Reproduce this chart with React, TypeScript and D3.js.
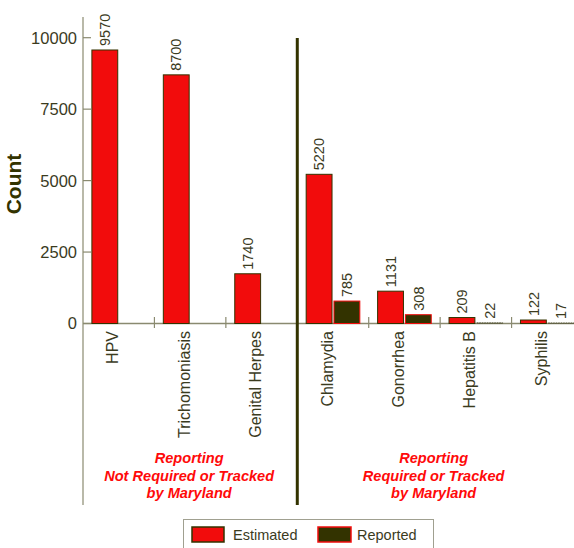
import React from "react";
import * as d3 from "d3";

const categories = ["HPV", "Trichomoniasis", "Genital Herpes", "Chlamydia", "Gonorrhea", "Hepatitis B", "Syphilis"];
const estimated = [9570, 8700, 1740, 5220, 1131, 209, 122];
const reported: (number | null)[] = [null, null, null, 785, 308, 22, 17];
const yTicks = [0, 2500, 5000, 7500, 10000];
const seriesNames = ["Estimated", "Reported"];
const groupLeft = ["Reporting", "Not Required or Tracked", "by Maryland"];
const groupRight = ["Reporting", "Required or Tracked", "by Maryland"];

const W = 574, H = 548;
const dark = "#333300";
const txt = "#3b3b1e";
const axisCol = "#8a8a70";
const red = "#f20c0c";
const font = "'Liberation Sans', Arial, sans-serif";

export default function App() {
  const x0 = 83;
  const y0 = 323.5;
  const x = d3.scaleBand<string>().domain(categories).range([x0, 583]).paddingInner(0).paddingOuter(0);
  const sub = d3.scaleBand<string>().domain(seriesNames).range([0, x.bandwidth()]).paddingInner(0.07).paddingOuter(0.32);
  const y = d3.scaleLinear().domain([0, 10000]).range([y0, 37.7]);
  const dividerX = x(categories[3])!;
  const bw = sub.bandwidth();

  const bars: React.ReactNode[] = [];
  categories.forEach((c, i) => {
    const vals = [estimated[i], reported[i]];
    vals.forEach((v, j) => {
      if (v == null) return;
      const bx = x(c)! + sub(seriesNames[j])!;
      const top = y(v);
      const h = y0 - top;
      const tiny = h < 2;
      bars.push(
        <rect key={`b${i}-${j}`} x={bx} y={top} width={bw} height={Math.max(0.01, h)}
          fill={j === 0 ? red : dark} stroke={tiny ? "#66664d" : j === 0 ? dark : red} strokeWidth={1}
          strokeDasharray={tiny ? "1.5 1" : undefined} />
      );
      const cx = bx + bw / 2;
      bars.push(
        <text key={`l${i}-${j}`} transform={`translate(${cx},${top - 4}) rotate(-90)`} dy="0.36em"
          fontSize={14.5} fill={txt} fontFamily={font}>{v}</text>
      );
    });
  });

  const boundaryTicks = categories.slice(1).map((c) => x(c)!).filter((v) => Math.abs(v - dividerX) > 1);

  const leftCenter = (x0 + dividerX) / 2;
  const rightCenter = (dividerX + W) / 2 - 2;

  return (
    <svg width={W} height={H} style={{ position: "absolute", left: 0, top: 0, background: "#fff" }}>
      <rect width={W} height={H} fill="#fff" />
      {/* y axis */}
      <line x1={x0} x2={x0} y1={17} y2={505} stroke={axisCol} strokeWidth={1.2} />
      {yTicks.map((t) => (
        <g key={t}>
          <line x1={x0} x2={x0 + 8} y1={y(t)} y2={y(t)} stroke={axisCol} strokeWidth={1.2} />
          <text x={77} y={y(t)} dy="0.36em" textAnchor="end" fontSize={16.5} fill={txt} fontFamily={font}>{t}</text>
        </g>
      ))}
      <text transform={`translate(21,184) rotate(-90)`} textAnchor="middle" fontSize={21} fontWeight="bold" fill={dark} fontFamily={font}>Count</text>
      {/* baseline */}
      <line x1={x0} x2={W} y1={y0} y2={y0} stroke={axisCol} strokeWidth={1.3} />
      {boundaryTicks.map((bx) => (
        <line key={bx} x1={bx} x2={bx} y1={317} y2={328} stroke={axisCol} strokeWidth={1.2} />
      ))}
      {bars}
      {/* divider */}
      <line x1={dividerX} x2={dividerX} y1={38} y2={505} stroke={dark} strokeWidth={3} />
      {/* category labels */}
      {categories.map((c) => (
        <text key={c} transform={`translate(${x(c)! + x.bandwidth() / 2 - 0.5},331) rotate(-90)`} textAnchor="end"
          fontSize={16} fill={txt} fontFamily={font}>{c}</text>
      ))}
      {/* group annotations */}
      {groupLeft.map((s, i) => (
        <text key={`gl${i}`} x={leftCenter - 1} y={463 + i * 17.5} textAnchor="middle" fontSize={14.6}
          fontWeight="bold" fontStyle="italic" fill="#ff0a0a" fontFamily={font}>{s}</text>
      ))}
      {groupRight.map((s, i) => (
        <text key={`gr${i}`} x={rightCenter} y={463 + i * 17.5} textAnchor="middle" fontSize={14.6}
          fontWeight="bold" fontStyle="italic" fill="#ff0a0a" fontFamily={font}>{s}</text>
      ))}
      {/* legend */}
      <rect x={183.5} y={519.5} width={250} height={40} fill="#fff" stroke="#a0a090" strokeWidth={1} />
      <rect x={192} y={527} width={32} height={15} fill={red} stroke={dark} strokeWidth={1.5} />
      <text x={233} y={540} fontSize={14.5} fill={txt} fontFamily={font}>{seriesNames[0]}</text>
      <rect x={318} y={527} width={33} height={15} fill={dark} stroke={red} strokeWidth={1.5} />
      <text x={357} y={540} fontSize={14.5} fill={txt} fontFamily={font}>{seriesNames[1]}</text>
    </svg>
  );
}
